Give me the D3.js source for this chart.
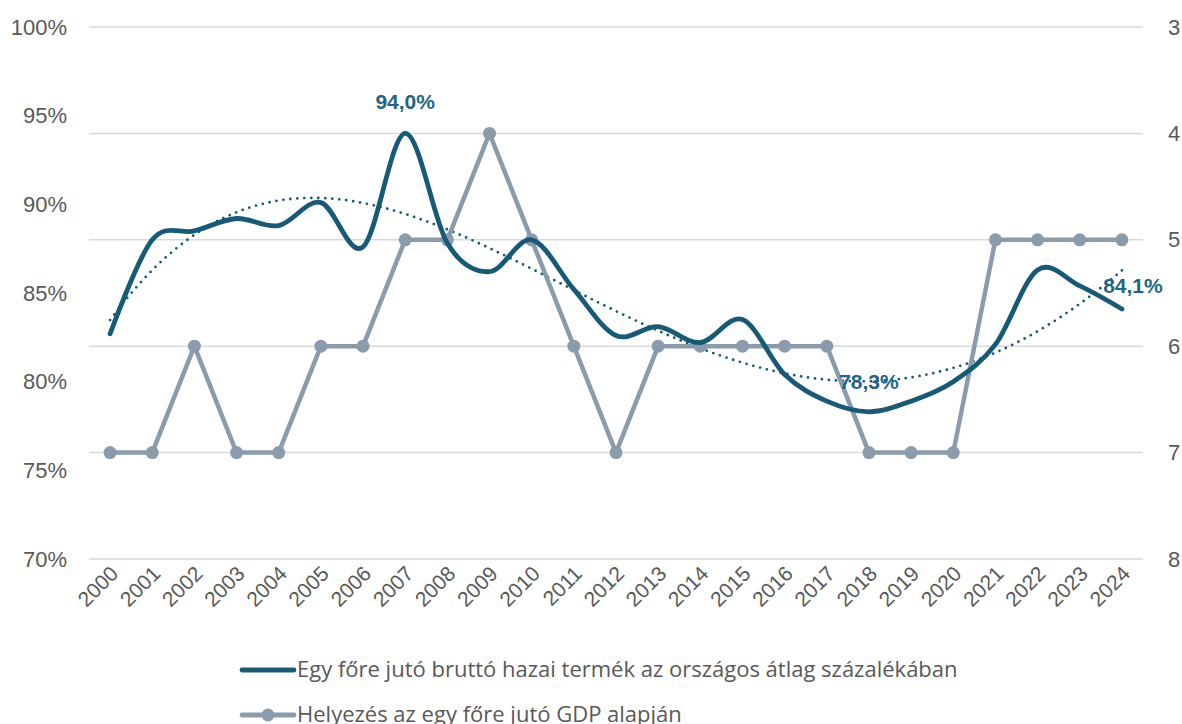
<!DOCTYPE html>
<html>
<head>
<meta charset="utf-8">
<script src="https://cdn.jsdelivr.net/npm/d3@7"></script>
<style>
  html, body { margin: 0; padding: 0; background: #fff; overflow: hidden; }
  svg { display: block; font-family: "Open Sans", "Liberation Sans", sans-serif; }
</style>
</head>
<body>
<div id="chart"></div>
<script>
// data
var years = ['2000', '2001', '2002', '2003', '2004', '2005', '2006', '2007', '2008', '2009',
             '2010', '2011', '2012', '2013', '2014', '2015', '2016', '2017', '2018', '2019',
             '2020', '2021', '2022', '2023', '2024'];
var gdpShare = [82.7, 88.0, 88.5, 89.2, 88.8, 90.1, 87.6, 94.0, 87.8, 86.2,
                88.0, 85.2, 82.6, 83.1, 82.2, 83.5, 80.4, 78.9, 78.3, 78.9,
                80.0, 82.1, 86.3, 85.4, 84.1];
var rank = [7, 7, 6, 7, 7, 6, 6, 5, 5, 4,
            5, 6, 7, 6, 6, 6, 6, 6, 7, 7,
            7, 5, 5, 5, 5];
var leftTicks = [70, 75, 80, 85, 90, 95, 100];
var rightTicks = [3, 4, 5, 6, 7, 8];
var labelledYears = ['2007', '2018', '2024'];
var seriesNames = ['Egy főre jutó bruttó hazai termék az országos átlag százalékában',
                   'Helyezés az egy főre jutó GDP alapján'];
var trendOrder = 4;

(function () {
  var W = 1182, H = 724,
      margin = {top: 27, right: 39, bottom: 165, left: 89},
      width = W - margin.left - margin.right,
      height = H - margin.top - margin.bottom,
      dark = '#165a78',
      grey = '#8a9bac',
      labelColor = '#1f6585',
      textColor = '#595959',
      tickFont = '"Liberation Sans", Arial, sans-serif';

  var svg = d3.select('#chart').append('svg')
      .attr('width', W).attr('height', H);
  var g = svg.append('g')
      .attr('transform', 'translate(' + margin.left + ',' + margin.top + ')');

  var x = d3.scalePoint().domain(years).range([0, width]).padding(0.5);
  var yL = d3.scaleLinear().domain([70, 100]).range([height, 0]);
  var yR = d3.scaleLinear().domain([3, 8]).range([0, height]);

  // gridlines follow the right axis
  g.append('g').selectAll('line')
    .data(rightTicks)
    .enter().append('line')
      .attr('x1', 0).attr('x2', width)
      .attr('y1', function (d) { return yR(d); })
      .attr('y2', function (d) { return yR(d); })
      .attr('stroke', '#d9d9d9').attr('stroke-width', 1.5);

  // left axis
  var axL = g.append('g').call(d3.axisLeft(yL).tickValues(leftTicks)
      .tickFormat(function (d) { return d + '%'; }).tickSize(0).tickPadding(22));
  axL.select('.domain').remove();
  axL.selectAll('text').attr('fill', textColor).style('font-size', '22px')
      .style('font-family', tickFont);

  // right axis
  var axR = g.append('g').attr('transform', 'translate(' + width + ',0)')
      .call(d3.axisRight(yR).tickValues(rightTicks).tickFormat(d3.format('d'))
        .tickSize(0).tickPadding(25));
  axR.select('.domain').remove();
  axR.selectAll('text').attr('fill', textColor).style('font-size', '22px')
      .style('font-family', tickFont);

  // x axis
  var axX = g.append('g').attr('transform', 'translate(0,' + height + ')')
      .call(d3.axisBottom(x).tickSize(0).tickPadding(0));
  axX.select('.domain').remove();
  axX.selectAll('text')
      .attr('fill', textColor).style('font-size', '21px')
      .style('font-family', tickFont)
      .style('text-anchor', 'end')
      .attr('dy', '0')
      .attr('transform', 'translate(9,16) rotate(-45)');

  // polynomial trendline from the data
  function polyFit(xs, ys, order) {
    var n = order + 1, A = [], i, j, k;
    for (i = 0; i < n; i++) {
      A.push([]);
      for (j = 0; j <= n; j++) A[i].push(0);
    }
    xs.forEach(function (xv, p) {
      for (i = 0; i < n; i++) {
        for (j = 0; j < n; j++) A[i][j] += Math.pow(xv, i + j);
        A[i][n] += ys[p] * Math.pow(xv, i);
      }
    });
    for (i = 0; i < n; i++) {
      var piv = i;
      for (k = i + 1; k < n; k++) if (Math.abs(A[k][i]) > Math.abs(A[piv][i])) piv = k;
      var tmp = A[i]; A[i] = A[piv]; A[piv] = tmp;
      for (k = i + 1; k < n; k++) {
        var f = A[k][i] / A[i][i];
        for (j = i; j <= n; j++) A[k][j] -= f * A[i][j];
      }
    }
    var c = new Array(n);
    for (i = n - 1; i >= 0; i--) {
      var s = A[i][n];
      for (j = i + 1; j < n; j++) s -= A[i][j] * c[j];
      c[i] = s / A[i][i];
    }
    return function (xv) {
      var r = 0;
      for (var m = 0; m < n; m++) r += c[m] * Math.pow(xv, m);
      return r;
    };
  }
  var nYears = years.length;
  var xsNorm = years.map(function (d, i) { return (i / (nYears - 1)) * 2 - 1; });
  var fit = polyFit(xsNorm, gdpShare, trendOrder);
  var trendPts = d3.range(0, nYears - 1 + 0.001, 0.1).map(function (t) {
    return [t, fit((t / (nYears - 1)) * 2 - 1)];
  });
  var step = x.step();
  g.append('path')
    .datum(trendPts)
    .attr('fill', 'none')
    .attr('stroke', dark)
    .attr('stroke-width', 2.8)
    .attr('stroke-linecap', 'round')
    .attr('stroke-dasharray', '0 7')
    .attr('d', d3.line()
      .x(function (d) { return x(years[0]) + d[0] * step; })
      .y(function (d) { return yL(d[1]); }));

  // rank line (straight)
  var rankLine = d3.line()
    .x(function (d, i) { return x(years[i]); })
    .y(function (d) { return yR(d); });
  g.append('path')
    .datum(rank)
    .attr('fill', 'none')
    .attr('stroke', grey)
    .attr('stroke-width', 4.5)
    .attr('stroke-linejoin', 'round')
    .attr('d', rankLine);
  g.selectAll('.dot')
    .data(rank)
    .enter().append('circle')
      .attr('class', 'dot')
      .attr('cx', function (d, i) { return x(years[i]); })
      .attr('cy', function (d) { return yR(d); })
      .attr('r', 6.5)
      .attr('fill', grey);

  // GDP share line (smoothed)
  g.append('path')
    .datum(gdpShare)
    .attr('fill', 'none')
    .attr('stroke', dark)
    .attr('stroke-width', 4.8)
    .attr('stroke-linecap', 'round')
    .attr('d', d3.line()
      .curve(d3.curveCardinal.tension(0))
      .x(function (d, i) { return x(years[i]); })
      .y(function (d) { return yL(d); }));

  // data labels
  var fmt = function (v) { return v.toFixed(1).replace('.', ',') + '%'; };
  var labelOffset = {'2007': [0, -24], '2018': [0, -23], '2024': [11, -16]};
  labelledYears.forEach(function (yr) {
    var i = years.indexOf(yr), off = labelOffset[yr];
    g.append('text')
      .attr('x', x(yr) + off[0])
      .attr('y', yL(gdpShare[i]) + off[1])
      .attr('text-anchor', 'middle')
      .attr('fill', labelColor)
      .style('font-size', '21px')
      .style('font-weight', 'bold')
      .style('font-family', tickFont)
      .text(fmt(gdpShare[i]));
  });

  // legend
  var leg = svg.append('g');
  seriesNames.forEach(function (name, i) {
    var ly = 670 + i * 45;
    leg.append('line')
      .attr('x1', 242).attr('x2', 294).attr('y1', ly).attr('y2', ly)
      .attr('stroke', i === 0 ? dark : grey)
      .attr('stroke-width', 4.8).attr('stroke-linecap', 'round');
    if (i === 1) {
      leg.append('circle').attr('cx', 268).attr('cy', ly).attr('r', 6.5).attr('fill', grey);
    }
    leg.append('text')
      .attr('x', 297).attr('y', ly + 7)
      .attr('fill', textColor)
      .style('font-size', '22px')
      .text(name);
  });
})();
</script>
</body>
</html>
